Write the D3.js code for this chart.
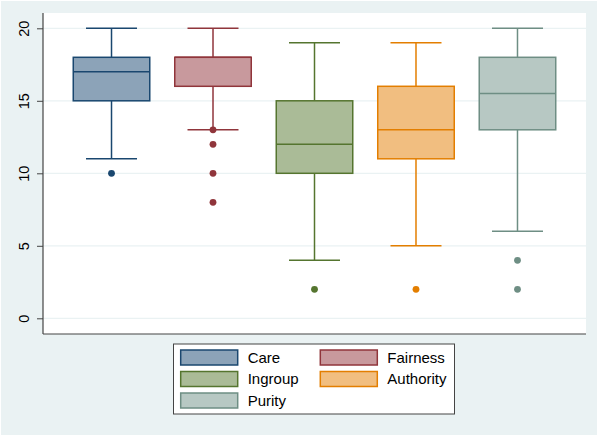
<!DOCTYPE html>
<html>
<head>
<meta charset="utf-8">
<script src="https://cdn.jsdelivr.net/npm/d3@7"></script>
<style>
  body { margin: 0; background: #fff; }
  text { font-family: "Liberation Sans", Arial, sans-serif; }
</style>
</head>
<body>
<svg width="600" height="437"></svg>
<script>
// box plot stats
const categories = ['Care', 'Fairness', 'Ingroup', 'Authority', 'Purity'];
const lowWhisker = [11, 13, 4, 5, 6];
const q1 = [15, 16, 10, 11, 13];
const median = [17, 18, 12, 13, 15.5];
const q3 = [18, 18, 15, 16, 18];
const highWhisker = [20, 20, 19, 19, 20];
const outliers = [[10], [13, 12, 10, 8], [2], [2], [4, 2]];
const yTicks = [0, 5, 10, 15, 20];

const lineColors = ['#1a476f', '#90353b', '#55752f', '#e37e00', '#6e8e84'];
const fillColors = ['#8ca3b8', '#c8999d', '#aabb97', '#f1be80', '#b7c8c3'];

const boxes = categories.map((c, i) => ({
  name: c, lo: lowWhisker[i], q1: q1[i], med: median[i], q3: q3[i], hi: highWhisker[i],
  out: outliers[i], stroke: lineColors[i], fill: fillColors[i]
}));

const svg = d3.select('svg');

// outer background
svg.append('rect').attr('x', 1).attr('y', 1).attr('width', 596).attr('height', 434)
  .attr('fill', '#eaf2f3');

const plot = { left: 43, right: 586, top: 13, bottom: 334 };
svg.append('rect').attr('x', plot.left).attr('y', plot.top)
  .attr('width', plot.right - plot.left).attr('height', plot.bottom - plot.top)
  .attr('fill', '#fff');

const yScale = d3.scaleLinear().domain([0, 20]).range([318.3, 28.3]);
const xScale = d3.scalePoint().domain(categories)
  .range([plot.left, plot.right]).padding(0.675);

// gridlines
svg.append('g').selectAll('line').data(yTicks).enter().append('line')
  .attr('x1', plot.left).attr('x2', plot.right)
  .attr('y1', d => yScale(d)).attr('y2', d => yScale(d))
  .attr('stroke', '#eaf2f3').attr('stroke-width', 1.2);

// y axis, labels turned on their side like stata does
const yAxis = svg.append('g').attr('transform', `translate(${plot.left},0)`)
  .call(d3.axisLeft(yScale).tickValues(yTicks).tickSize(6));
yAxis.select('.domain').remove();
yAxis.selectAll('.tick line').attr('stroke', '#444');
yAxis.selectAll('.tick text')
  .attr('font-size', 14.5).attr('fill', '#000')
  .attr('text-anchor', 'middle')
  .attr('x', 0).attr('y', 0).attr('dy', '0.35em')
  .attr('transform', 'translate(-19,0) rotate(-90)');

svg.append('line').attr('x1', plot.left).attr('x2', plot.left)
  .attr('y1', plot.top).attr('y2', plot.bottom).attr('stroke', '#444').attr('stroke-width', 1.2);
svg.append('line').attr('x1', plot.left).attr('x2', plot.right)
  .attr('y1', plot.bottom).attr('y2', plot.bottom).attr('stroke', '#444').attr('stroke-width', 1.2);

const boxW = 76.5, capW = 51;
const g = svg.append('g').selectAll('g').data(boxes).enter().append('g');

// whiskers
g.append('line').attr('x1', d => xScale(d.name)).attr('x2', d => xScale(d.name))
  .attr('y1', d => yScale(d.hi)).attr('y2', d => yScale(d.q3))
  .attr('stroke', d => d.stroke).attr('stroke-width', 1.5);
g.append('line').attr('x1', d => xScale(d.name)).attr('x2', d => xScale(d.name))
  .attr('y1', d => yScale(d.q1)).attr('y2', d => yScale(d.lo))
  .attr('stroke', d => d.stroke).attr('stroke-width', 1.5);
['hi', 'lo'].forEach(k => {
  g.append('line').attr('x1', d => xScale(d.name) - capW / 2).attr('x2', d => xScale(d.name) + capW / 2)
    .attr('y1', d => yScale(d[k])).attr('y2', d => yScale(d[k]))
    .attr('stroke', d => d.stroke).attr('stroke-width', 1.5);
});

// boxes
g.append('rect').attr('x', d => xScale(d.name) - boxW / 2).attr('width', boxW)
  .attr('y', d => yScale(d.q3)).attr('height', d => yScale(d.q1) - yScale(d.q3))
  .attr('fill', d => d.fill).attr('stroke', d => d.stroke).attr('stroke-width', 1.5);
g.append('line').attr('x1', d => xScale(d.name) - boxW / 2).attr('x2', d => xScale(d.name) + boxW / 2)
  .attr('y1', d => yScale(d.med)).attr('y2', d => yScale(d.med))
  .attr('stroke', d => d.stroke).attr('stroke-width', 1.5);

// outliers
g.selectAll('circle').data(d => d.out.map(v => ({ v, name: d.name, c: d.stroke })))
  .enter().append('circle')
  .attr('cx', d => xScale(d.name)).attr('cy', d => yScale(d.v)).attr('r', 3.4)
  .attr('fill', d => d.c);

// legend
const legend = svg.append('g');
legend.append('rect').attr('x', 173.5).attr('y', 344).attr('width', 281).attr('height', 70)
  .attr('fill', '#fff').attr('stroke', '#444').attr('stroke-width', 1);
const colX = [180.7, 320.3], rowY = [350, 371.5, 393];
const items = legend.selectAll('g').data(boxes).enter().append('g')
  .attr('transform', (d, i) => `translate(${colX[i % 2]},${rowY[Math.floor(i / 2)]})`);
items.append('rect').attr('width', 57).attr('height', 15)
  .attr('fill', d => d.fill).attr('stroke', d => d.stroke).attr('stroke-width', 1.5);
items.append('text').attr('x', 67).attr('y', 7.5).attr('dy', '0.36em')
  .attr('font-size', 15).attr('fill', '#000').text(d => d.name);
</script>
</body>
</html>
